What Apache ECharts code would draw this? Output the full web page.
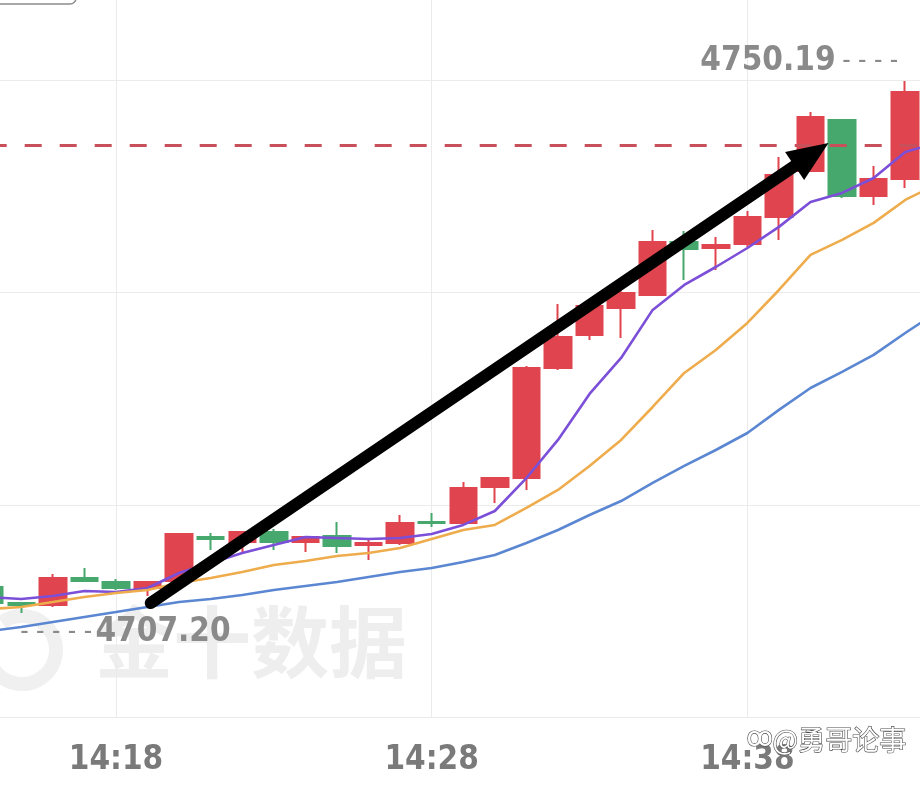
<!DOCTYPE html>
<html>
<head>
<meta charset="utf-8">
<script src="https://cdn.jsdelivr.net/npm/echarts@6.0.0/dist/echarts.min.js"></script>
<style>html,body{margin:0;padding:0;background:#fff;}#c{width:920px;height:788px;}</style>
</head>
<body>
<div id="c"></div>
<script>
// ---- data ----
const times = ['14:14','14:15','14:16','14:17','14:18','14:19','14:20','14:21','14:22','14:23',
  '14:24','14:25','14:26','14:27','14:28','14:29','14:30','14:31','14:32','14:33',
  '14:34','14:35','14:36','14:37','14:38','14:39','14:40','14:41','14:42','14:43','14:44'];
const openP  = [4710.63,4709.42,4709.27,4711.30,4711.00,4710.55,4711.08,4714.39,4714.02,4714.77,
  4714.02,4714.47,4713.79,4713.94,4715.52,4715.45,4718.16,4718.83,4727.12,4729.60,
  4731.64,4732.61,4736.61,4736.15,4736.45,4738.49,4741.95,4745.79,4740.07,4741.35,4747.90];
const closeP = [4709.42,4709.27,4711.30,4711.08,4710.55,4711.00,4714.62,4714.24,4714.77,4714.02,
  4714.39,4713.71,4713.94,4715.45,4715.45,4718.08,4718.83,4727.12,4729.45,4731.79,
  4732.77,4736.61,4736.08,4736.38,4738.49,4741.65,4746.02,4740.07,4741.35,4747.90,4749.20];
const lowP   = [4707.20,4708.67,4709.12,4711.00,4710.40,4709.95,4710.93,4713.41,4713.26,4713.41,
  4713.26,4713.19,4712.66,4713.79,4715.14,4715.40,4716.95,4717.93,4726.97,4729.23,
  4729.38,4732.55,4733.74,4734.50,4736.23,4736.76,4741.90,4739.92,4739.39,4740.67,4747.40];
const highP  = [4710.85,4709.50,4711.61,4712.06,4711.23,4711.08,4714.69,4714.69,4714.84,4714.99,
  4714.47,4715.52,4714.17,4716.05,4716.20,4718.53,4718.91,4727.27,4731.94,4731.86,
  4732.99,4737.51,4737.43,4736.98,4738.94,4743.01,4746.39,4745.85,4742.33,4748.73,4750.19];
const ma5  = [4709.87,4709.72,4709.95,4710.33,4710.25,4710.55,4711.68,4712.43,4713.19,4713.79,
  4714.39,4714.32,4714.24,4714.32,4714.62,4715.30,4716.35,4718.83,4721.70,4725.16,
  4727.87,4731.49,4733.37,4734.72,4736.15,4737.74,4739.62,4740.30,4741.42,4743.38,4744.06];
const ma10 = [4708.97,4709.12,4709.50,4709.87,4710.18,4710.40,4710.93,4711.30,4711.76,4712.28,
  4712.58,4712.96,4713.19,4713.56,4714.24,4714.92,4715.30,4716.58,4717.93,4719.74,
  4721.70,4724.18,4726.74,4728.47,4730.51,4732.99,4735.63,4736.76,4738.04,4739.77,4740.95];
const ma20 = [4707.31,4707.61,4707.99,4708.37,4708.74,4709.12,4709.50,4709.72,4710.02,4710.40,
  4710.70,4711.00,4711.38,4711.76,4712.06,4712.51,4713.04,4713.94,4714.92,4716.05,
  4717.10,4718.46,4719.74,4720.94,4722.22,4723.96,4725.61,4726.82,4728.10,4729.75,4731.33];
const refLine = 4743.9;              // red dashed level
const labelTimes = ['14:18','14:28','14:38'];
const arrowFrom = {t:'14:19', frac:0.10, p:4709.42};
const arrowTo   = {t:'14:40', frac:0.57, p:4744.06};

// ---- chart ----
const candleData = times.map((t,i)=>[openP[i], closeP[i], lowP[i], highP[i]]);
let hiIdx = 0, loIdx = 0;
highP.forEach((v,i)=>{ if (v > highP[hiIdx]) hiIdx = i; });
lowP.forEach((v,i)=>{ if (v < lowP[loIdx]) loIdx = i; });

const NARROW = "'DejaVu Sans Condensed','DejaVu Sans',sans-serif";
const UP = '#e0444f', DOWN = '#47a86d';
const chart = echarts.init(document.getElementById('c'), null, {renderer:'canvas'});

const lineSeries = (name, data, color) => ({
  name, type:'line', data, smooth:false, symbol:'none', z:4,
  lineStyle:{color, width:2.6}, itemStyle:{color}, silent:true, animation:false
});

const option = {
  animation:false,
  backgroundColor:'#ffffff',
  grid:{left:-10.3, top:-132.5, width:947.1, height:850, containLabel:false, outerBoundsMode:'none'},
  xAxis:{
    type:'category', data:times, boundaryGap:false,
    axisLine:{show:false}, axisTick:{show:false},
    axisLabel:{
      interval:(i,v)=>labelTimes.indexOf(v) >= 0,
      color:'#7a7a7a', fontSize:33, fontFamily:NARROW, fontWeight:'bold', margin:26
    },
    splitLine:{show:true, interval:(i,v)=>labelTimes.indexOf(v) >= 0, lineStyle:{color:'#ebebeb', width:1}}
  },
  yAxis:[
    {type:'value', min:4700.8, max:4764.8, show:false, splitLine:{show:false}},
    {type:'value', min:0, max:4, interval:1, position:'left',
     axisLine:{show:false}, axisTick:{show:false}, axisLabel:{show:false},
     splitLine:{show:true, lineStyle:{color:'#ebebeb', width:1}}}
  ],
  series:[
    {
      name:'K', type:'candlestick', data:candleData, yAxisIndex:0, barWidth:27, clip:false, z:3,
      itemStyle:{color:UP, color0:DOWN, borderColor:UP, borderColor0:DOWN, borderWidth:2},
      markLine:{
        silent:true, symbol:['none','none'], animation:false,
        label:{show:false},
        lineStyle:{color:'#c8505a', type:[17,18], width:3},
        data:[{yAxis:refLine}]
      },
      markPoint:{
        symbol:'circle', symbolSize:1, itemStyle:{color:'rgba(0,0,0,0)'}, animation:false,
        label:{show:true,
          rich:{
            v:{fontSize:33, fontFamily:NARROW, fontWeight:'bold', color:'#8a8a8a'},
            d:{fontSize:26, fontFamily:NARROW, color:'#8a8a8a'}
          }},
        data:[
          {coord:[times[hiIdx], highP[hiIdx]], value:highP[hiIdx],
           label:{position:'left', distance:38, formatter:p=>'{v|'+p.value.toFixed(2)+'}  {d|- - - -}'}},
          {coord:[times[loIdx], lowP[loIdx]], value:lowP[loIdx],
           label:{position:'right', distance:30, formatter:p=>'{d|- - - - -} {v|'+p.value.toFixed(2)+'}'}}
        ]
      }
    },
    lineSeries('MA5', ma5, '#7b4fd8'),
    lineSeries('MA10', ma10, '#eeac4c'),
    lineSeries('MA20', ma20, '#5b87d2')
  ],
  graphic:[
    {type:'rect', id:'box', shape:{x:-20, y:-40, width:96, height:44, r:6}, z:50,
     style:{fill:'#ffffff', stroke:'#8c8c8c', lineWidth:1.5}},
    {type:'arc', id:'logo', shape:{cx:22, cy:650, r:34, startAngle:-2.2, endAngle:2.6}, z:0,
     style:{stroke:'#f0f0f0', lineWidth:14, fill:null}},
    {type:'text', id:'wm', left:95, top:603, z:0,
     style:{text:'金十数据', font:'bold 78px "Noto Sans CJK SC"', fill:'#eeeeee'}},
    {type:'text', id:'author', left:772, top:726, z:60,
     style:{text:'@勇哥论事', font:'27px "Noto Sans CJK SC"', fill:'#ffffff', stroke:'#4a4a4a', lineWidth:1.2}},
    {type:'text', id:'tt', left:746, top:726, z:60,
     style:{text:'ꝏ', font:'26px "DejaVu Sans"', fill:'#ffffff', stroke:'#4a4a4a', lineWidth:1.2}}
  ]
};
chart.setOption(option);

// arrow annotation anchored to data coordinates
function px(pt){
  const i = times.indexOf(pt.t);
  const a = chart.convertToPixel({gridIndex:0}, [i, pt.p]);
  const b = chart.convertToPixel({gridIndex:0}, [i+1, pt.p]);
  return [a[0] + (b[0]-a[0])*pt.frac, a[1]];
}
const s = px(arrowFrom), e = px(arrowTo);
const dx = e[0]-s[0], dy = e[1]-s[1], L = Math.hypot(dx,dy);
const ux = dx/L, uy = dy/L, nx = -uy, ny = ux;
const headLen = 41, headHalf = 17;
const bx = e[0]-ux*headLen, by = e[1]-uy*headLen;
chart.setOption({graphic:[
  {type:'line', id:'arrowLine', z:100,
   shape:{x1:s[0], y1:s[1], x2:bx+ux*4, y2:by+uy*4},
   style:{stroke:'#000', lineWidth:12, lineCap:'round'}},
  {type:'polygon', id:'arrowHead', z:100,
   shape:{points:[[e[0],e[1]],[bx+nx*headHalf, by+ny*headHalf],[bx-nx*headHalf, by-ny*headHalf]]},
   style:{fill:'#000'}}
]});
</script>
</body>
</html>
